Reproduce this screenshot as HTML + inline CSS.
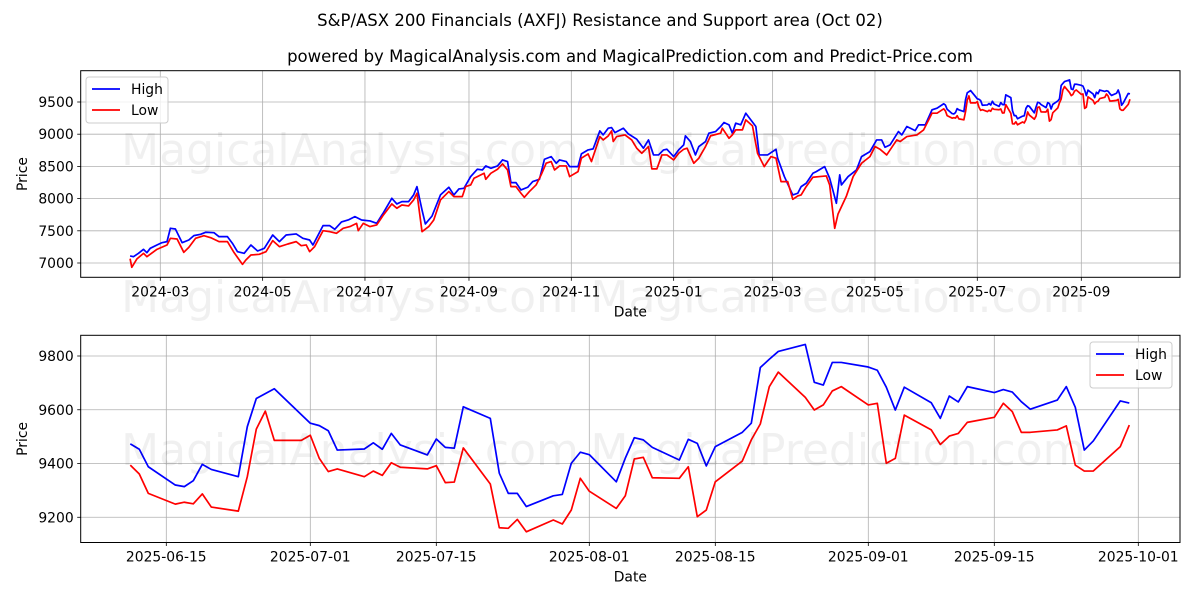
<!DOCTYPE html>
<html><head><meta charset="utf-8">
<style>
html,body{margin:0;padding:0;background:#fff;}
svg{display:block;font-family:"DejaVu Sans","Liberation Sans",sans-serif;}
</style></head>
<body>
<svg id="chart" width="1200" height="600" viewBox="0 0 1200 600" xmlns="http://www.w3.org/2000/svg">
<rect x="0" y="0" width="1200" height="600" fill="#fff"/>
<text x="600" y="26" text-anchor="middle" font-size="16.5" fill="#000">S&amp;P/ASX 200 Financials (AXFJ) Resistance and Support area (Oct 02)</text>
<text x="630" y="62" text-anchor="middle" font-size="16.5" fill="#000">powered by MagicalAnalysis.com and MagicalPrediction.com and Predict-Price.com</text>
<g id="top"></g>
<g id="bot"></g>
<g id="wm" fill="#000" fill-opacity="0.06" font-size="44" text-anchor="middle">
<text x="350" y="165">MagicalAnalysis.com</text>
<text x="838" y="165">MagicalPrediction.com</text>
<text x="350" y="312">MagicalAnalysis.com</text>
<text x="838" y="312">MagicalPrediction.com</text>
<text x="350" y="465">MagicalAnalysis.com</text>
<text x="838" y="465">MagicalPrediction.com</text>
</g>
</svg>
<script>
// ---- bottom chart data (recent period) ----
const recentDates = ["2025-06-11","2025-06-12","2025-06-13","2025-06-16","2025-06-17","2025-06-18","2025-06-19","2025-06-20","2025-06-23","2025-06-24","2025-06-25","2025-06-26","2025-06-27","2025-06-30",
"2025-07-01","2025-07-02","2025-07-03","2025-07-04","2025-07-07","2025-07-08","2025-07-09","2025-07-10","2025-07-11","2025-07-14","2025-07-15","2025-07-16","2025-07-17","2025-07-18","2025-07-21","2025-07-22","2025-07-23","2025-07-24","2025-07-25","2025-07-28","2025-07-29","2025-07-30","2025-07-31",
"2025-08-01","2025-08-04","2025-08-05","2025-08-06","2025-08-07","2025-08-08","2025-08-11","2025-08-12","2025-08-13","2025-08-14","2025-08-15","2025-08-18","2025-08-19","2025-08-20","2025-08-21","2025-08-22","2025-08-25","2025-08-26","2025-08-27","2025-08-28","2025-08-29",
"2025-09-01","2025-09-02","2025-09-03","2025-09-04","2025-09-05","2025-09-08","2025-09-09","2025-09-10","2025-09-11","2025-09-12","2025-09-15","2025-09-16","2025-09-17","2025-09-18","2025-09-19","2025-09-22","2025-09-23","2025-09-24","2025-09-25","2025-09-26","2025-09-29","2025-09-30"];
const recentHigh = [9473,9453,9388,9320,9314,9336,9397,9378,9351,9537,9642,9660,9678,9582,
9550,9541,9522,9450,9454,9477,9453,9512,9469,9432,9491,9460,9457,9611,9568,9364,9289,9289,9240,9280,9285,9401,9442,
9433,9332,9420,9496,9488,9460,9413,9490,9475,9391,9463,9516,9550,9757,9788,9817,9843,9702,9692,9776,9776,
9759,9747,9684,9599,9684,9626,9568,9651,9629,9686,9664,9675,9666,9630,9602,9636,9686,9609,9450,9484,9633,9625];
const recentLow = [9394,9361,9289,9249,9256,9250,9287,9238,9223,9351,9528,9595,9486,9486,
9505,9419,9370,9380,9351,9372,9356,9403,9386,9380,9392,9329,9331,9458,9324,9161,9159,9192,9146,9190,9175,9227,9345,
9297,9233,9280,9417,9423,9347,9345,9388,9202,9227,9332,9409,9488,9547,9686,9740,9646,9599,9618,9670,9686,
9618,9624,9401,9419,9580,9525,9471,9502,9512,9553,9572,9624,9593,9516,9516,9525,9540,9394,9372,9372,9463,9543];

// ---- top chart earlier data: days since 2024-03-01 ----
const earlyHighDays = [-18,-16,-13,-10,-8,-6,-2,1,4,6,9,13,17,20,24,27,32,35,40,43,46,50,54,58,62,67,71,75,81,85,89,91,97,101,104,108,112,116,120,
125,129,133,138,141,144,148,151,153,156,158,162,167,172,175,178,181,185,189,192,194,197,201,204,207,209,212,215,219,222,226,229,233,236,238,242,244,249,251,255,258,262,264,267,269,271,276,279,284,288,291,294,297,
300,302,306,309,312,313,316,319,321,325,327,331,334,336,339,341,343,346,349,352,355,357,362,367,368,372,377,380,382,385,389,391,396,399,403,405,406,410,415,418,423,427,430,432,435,440,442,445,450,452,456,460,463];
const earlyHigh = [7109,7098,7150,7212,7160,7228,7280,7316,7332,7539,7528,7316,7357,7425,7445,7477,7471,7409,7409,7305,7176,7150,7280,7186,7228,7435,7332,7435,7451,7383,7357,7280,7580,7580,7523,7637,7668,7720,7668,
7653,7616,7782,8005,7917,7953,7953,8057,8186,7824,7606,7730,8057,8176,8057,8150,8160,8342,8456,8445,8507,8471,8507,8601,8575,8248,8248,8134,8176,8264,8300,8611,8652,8549,8601,8575,8497,8497,8694,8756,8772,9051,8989,9093,9103,9025,9093,9005,8922,8782,8911,8678,8678,
8756,8766,8652,8756,8834,8974,8886,8678,8808,8886,9015,9041,9119,9181,9145,9015,9171,9145,9326,9222,9119,8678,8678,8766,8627,8342,8057,8083,8186,8238,8393,8419,8497,8316,7927,8368,8212,8342,8445,8652,8730,8911,8911,8797,8834,9041,8989,9119,9056,9145,9145,9378,9404];
const earlyLowDays = [-18,-17,-14,-10,-8,-2,4,6,10,14,17,21,26,30,35,40,44,46,49,51,54,59,63,67,71,76,81,84,87,89,92,97,101,105,109,113,117,118,121,
125,129,133,138,141,144,148,151,153,156,160,163,167,172,175,180,182,185,187,189,193,194,197,201,204,207,209,212,215,217,220,224,227,230,233,235,238,242,244,249,251,255,257,262,264,267,269,270,272,277,281,284,287,291,293,296,299,
302,306,309,312,314,318,321,325,328,334,335,339,341,343,347,349,353,356,360,364,367,370,374,377,380,382,385,389,393,397,399,402,404,409,413,418,423,426,429,433,435,439,441,445,451,455,460,463];
const earlyLow = [7067,6933,7062,7150,7098,7212,7280,7383,7373,7166,7243,7383,7425,7394,7332,7332,7161,7088,6979,7047,7124,7135,7176,7347,7254,7295,7332,7269,7280,7176,7254,7502,7487,7461,7539,7565,7616,7502,7616,
7565,7591,7746,7917,7850,7901,7886,7979,8083,7487,7565,7668,7979,8109,8031,8031,8186,8212,8316,8342,8393,8300,8393,8456,8538,8445,8186,8186,8083,8020,8109,8212,8368,8549,8575,8445,8507,8507,8342,8419,8627,8694,8575,8963,8911,8973,9051,8886,8963,8989,8911,8782,8704,8808,8461,8461,8678,
8678,8601,8704,8766,8782,8549,8627,8808,8974,9015,9093,8937,8989,9067,9067,9222,9129,8704,8497,8652,8627,8264,8264,7989,8041,8057,8186,8331,8342,8352,8212,7539,7761,8041,8342,8549,8652,8808,8766,8678,8756,8911,8886,8963,8989,9067,9326,9326];

// ---- ticks ----
const topYTicks = [7000,7500,8000,8500,9000,9500];
const topXTicks = ["2024-03","2024-05","2024-07","2024-09","2024-11","2025-01","2025-03","2025-05","2025-07","2025-09"];
const botYTicks = [9200,9400,9600,9800];
const botXTicks = ["2025-06-15","2025-07-01","2025-07-15","2025-08-01","2025-08-15","2025-09-01","2025-09-15","2025-10-01"];

const NS = "http://www.w3.org/2000/svg";
const DAY = 86400000;
const T0 = Date.UTC(2024,2,1);
function ms(s){const p=s.split("-").map(Number);return Date.UTC(p[0],p[1]-1,p[2]||1);}
function mk(parent,tag,attrs){const e=document.createElementNS(NS,tag);for(const k in attrs)e.setAttribute(k,attrs[k]);parent.appendChild(e);return e;}

function drawPanel(g,cfg){
  const {L,R,T,B,xMin,xMax,yMin,yMax}=cfg;
  const sx=v=>L+(v-xMin)/(xMax-xMin)*(R-L);
  const sy=v=>B-(v-yMin)/(yMax-yMin)*(B-T);
  cfg.yTicks.forEach(v=>{
    const y=sy(v);
    const gl=mk(g,"line",{x1:L,x2:R,y1:y,y2:y,stroke:"#b0b0b0","stroke-width":0.8});
    
    
    mk(g,"line",{x1:L-3.5,x2:L,y1:y,y2:y,stroke:"#000","stroke-width":0.8});
    const t=mk(g,"text",{x:L-7,y:y+5,"text-anchor":"end","font-size":13.9,fill:"#000"});
    t.textContent=v;
    
    
  });
  cfg.xTicks.forEach(s=>{
    const x=sx(ms(s));
    const gl=mk(g,"line",{x1:x,x2:x,y1:T,y2:B,stroke:"#b0b0b0","stroke-width":0.8});
    
    
    mk(g,"line",{x1:x,x2:x,y1:B,y2:B+3.5,stroke:"#000","stroke-width":0.8});
    const t=mk(g,"text",{x:x,y:B+19,"text-anchor":"middle","font-size":13.9,fill:"#000"});
    t.textContent=s;
    
    
  });
  const series=[["high",cfg.hx,cfg.hy,"#0000ff"],["low",cfg.lx,cfg.ly,"#ff0000"]];
  series.forEach(([nm,xs,ys,c])=>{
    const d=xs.map((x,i)=>(i?"L":"M")+sx(x).toFixed(2)+","+sy(ys[i]).toFixed(2)).join("");
    const p=mk(g,"path",{d:d,fill:"none",stroke:c,"stroke-width":1.7,"stroke-linejoin":"round"});
    
    
  });
  const fr=mk(g,"rect",{x:L,y:T,width:R-L,height:B-T,fill:"none",stroke:"#000","stroke-width":1});
  
  
  const xl=mk(g,"text",{x:(L+R)/2,y:B+39,"text-anchor":"middle","font-size":13.9,fill:"#000"});
  xl.textContent="Date";
  
  
  const yc=(T+B)/2;
  const yl=mk(g,"text",{x:27,y:yc,"text-anchor":"middle","font-size":13.9,fill:"#000",transform:"rotate(-90 27 "+yc+")"});
  yl.textContent="Price";
  
  
  const lx=cfg.legX, ly=cfg.legY;
  const lg=mk(g,"g",{});
  
  
  mk(lg,"rect",{x:lx,y:ly,width:82,height:46,rx:3,fill:"#fff","fill-opacity":0.8,stroke:"#cccccc","stroke-width":1});
  [["High","#0000ff",12],["Low","#ff0000",33]].forEach(([lab,c,dy])=>{
    const e=mk(lg,"g",{});
    
    
    mk(e,"line",{x1:lx+6,x2:lx+34,y1:ly+dy,y2:ly+dy,stroke:c,"stroke-width":1.7});
    const t=mk(e,"text",{x:lx+45,y:ly+dy+5,"font-size":13.9,fill:"#000"});
    t.textContent=lab;
  });
}

const recentMs = recentDates.map(ms);
const topHx = earlyHighDays.map(d=>T0+d*DAY).concat(recentMs);
const topHy = earlyHigh.concat(recentHigh);
const topLx = earlyLowDays.map(d=>T0+d*DAY).concat(recentMs);
const topLy = earlyLow.concat(recentLow);

drawPanel(document.getElementById("top"),{
  L:80.7,R:1180,T:70.7,B:277.3,
  xMin:T0+(80.7-160.3)/1.6776*DAY, xMax:T0+(1180-160.3)/1.6776*DAY,
  yMin:7000-(277.3-263)/0.0644, yMax:7000+(263-70.7)/0.0644,
  yTicks:topYTicks,xTicks:topXTicks,hx:topHx,hy:topHy,lx:topLx,ly:topLy,legX:86,legY:77
});
const J15=Date.UTC(2025,5,15);
drawPanel(document.getElementById("bot"),{
  L:80.7,R:1180,T:335.3,B:542.5,
  xMin:J15+(80.7-166.3)/9.0*DAY, xMax:J15+(1180-166.3)/9.0*DAY,
  yMin:9800-(542.5-356)/0.2688, yMax:9800+(356-335.3)/0.2688,
  yTicks:botYTicks,xTicks:botXTicks,hx:recentMs,hy:recentHigh,lx:recentMs,ly:recentLow,legX:1090,legY:342
});
</script>
</body></html>
